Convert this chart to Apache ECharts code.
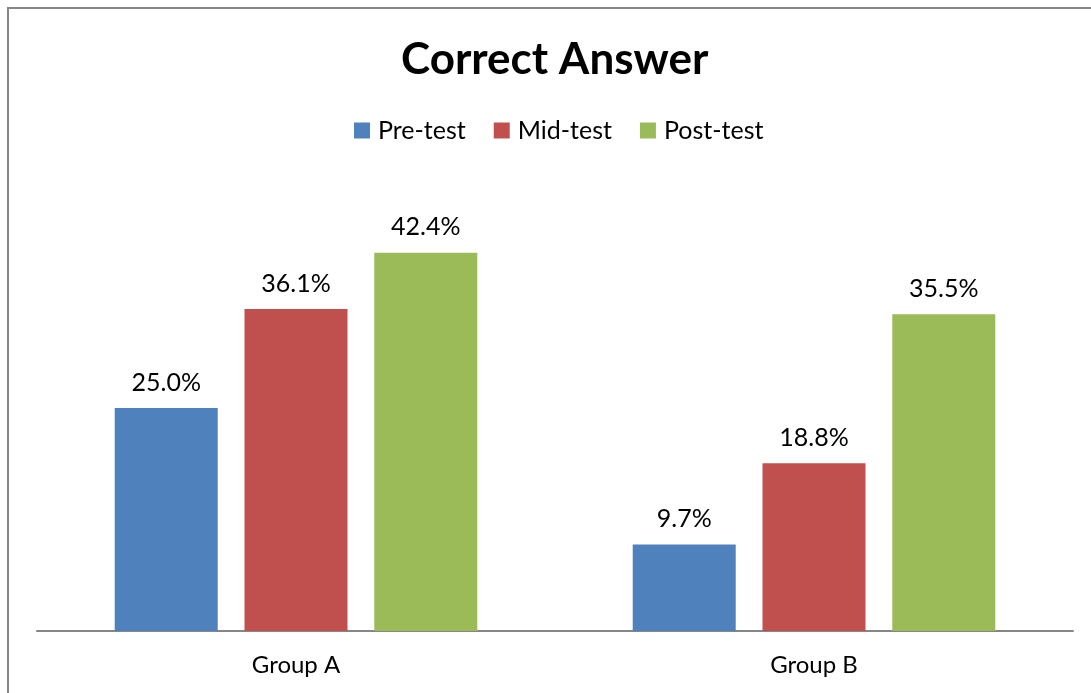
<!DOCTYPE html>
<html>
<head>
<meta charset="utf-8">
<script src="https://cdn.jsdelivr.net/npm/echarts@6/dist/echarts.min.js"></script>
<style>
  html, body { margin: 0; padding: 0; background: #fff; }
  #chart { width: 1091px; height: 693px; }
</style>
</head>
<body>
<div id="chart"></div>
<script>
const groups = ["Group A", "Group B"];
const preTest = [25.0, 9.7];
const midTest = [36.1, 18.8];
const postTest = [42.4, 35.5];

const seriesDefs = [
  { name: "Pre-test", data: preTest, color: "#4F81BD" },
  { name: "Mid-test", data: midTest, color: "#C0504D" },
  { name: "Post-test", data: postTest, color: "#9BBB59" },
];

const font = "Lato, 'Open Sans', sans-serif";

const chart = echarts.init(document.getElementById("chart"), null, { renderer: "canvas" });

chart.setOption({
  backgroundColor: "#fff",
  animation: false,
  textStyle: { fontFamily: font },
  title: {
    text: "Correct Answer",
    left: 401,
    top: 38,
    padding: 0,
    textStyle: { fontSize: 44, fontWeight: "bold", color: "#000", fontFamily: font },
  },
  legend: {
    top: 113,
    left: 349,
    itemWidth: 16,
    itemHeight: 16,
    itemGap: 28,
    icon: "rect",
    textStyle: { fontSize: 25, color: "#000", fontFamily: font, padding: [0, 0, 0, 3] },
    data: seriesDefs.map(s => s.name),
  },
  graphic: [
    {
      type: "rect",
      shape: { x: 8, y: 8, width: 1200, height: 800 },
      style: { fill: null, stroke: "#868686", lineWidth: 2 },
      silent: true,
    },
  ],
  grid: { left: 37, right: 18, top: 185, bottom: 62 },
  xAxis: {
    type: "category",
    data: groups,
    axisLine: { lineStyle: { color: "#868686", width: 2 } },
    axisTick: { show: false },
    axisLabel: { fontSize: 24, color: "#000", margin: 22, fontFamily: font },
  },
  yAxis: {
    type: "value",
    min: 0,
    max: 50,
    show: false,
    splitLine: { show: false },
  },
  series: seriesDefs.map(s => ({
    name: s.name,
    type: "bar",
    data: s.data,
    barWidth: 103,
    barGap: "26%",
    itemStyle: { color: s.color },
    label: {
      show: true,
      position: "top",
      distance: 13,
      fontSize: 25,
      color: "#000",
      fontFamily: font,
      formatter: p => p.value.toFixed(1) + "%",
    },
  })),
});
</script>
</body>
</html>
